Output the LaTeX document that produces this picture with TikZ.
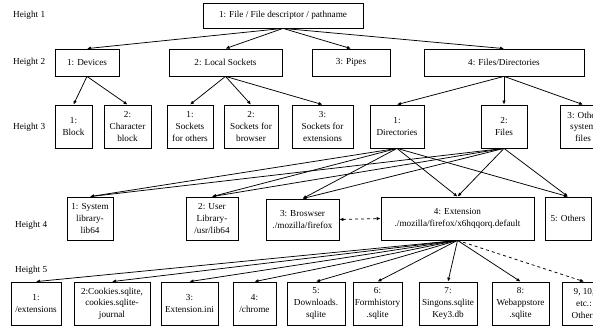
\documentclass[tikz,border=0pt]{standalone}
\usepackage{fontspec}
\setmainfont{Liberation Serif}
\usetikzlibrary{arrows.meta}
\begin{document}
\begin{tikzpicture}[x=1pt,y=-1pt,>={Latex[length=4pt,width=3.5pt]},
  every node/.style={font=\fontsize{9.2}{11.6}\selectfont},
  box/.style={draw,line width=0.8pt,align=center,inner sep=1pt},
  lvl/.style={anchor=west,inner sep=0pt},
  arr/.style={->,line width=0.75pt}]
\clip (0,0) rectangle (593,329);
\node[lvl] (h1) at (13,15.5) {Height 1};
\node[lvl] (h2) at (13,62.5) {Height 2};
\node[lvl] (h3) at (13,127) {Height 3};
\node[lvl] (h4) at (15,225) {Height 4};
\node[lvl] (h5) at (15,270) {Height 5};
\node[box,minimum width=160,minimum height=25] (root) at (283,15.5) {1: File / File descriptor / pathname};
\node[box,minimum width=64,minimum height=27] (dev) at (87,62.5) {1: Devices};
\node[box,minimum width=113,minimum height=27] (lsock) at (225.5,62.5) {2: Local Sockets};
\node[box,minimum width=78,minimum height=27] (pipes) at (351,62.5) {3: Pipes};
\node[box,minimum width=160,minimum height=27] (fdir) at (504,62.5) {4: Files/Directories};
\node[box,minimum width=37,minimum height=43] (block) at (73.5,126.5) {1:\\Block};
\node[box,minimum width=47,minimum height=43] (chr) at (127.5,126.5) {2:\\Character\\block};
\node[box,minimum width=46,minimum height=43] (sko) at (190,126.5) {1:\\Sockets\\for others};
\node[box,minimum width=54,minimum height=43] (skb) at (251,126.5) {2:\\Sockets for\\browser};
\node[box,minimum width=61,minimum height=43] (ske) at (322.5,126.5) {3:\\Sockets for\\extensions};
\node[box,minimum width=54,minimum height=43] (dirs) at (397,126.5) {1:\\Directories};
\node[box,minimum width=46,minimum height=43] (files) at (504,126.5) {2:\\Files};
\node[box,minimum width=46,minimum height=43] (osys) at (583,126.5) {3: Other\\system\\files};
\node[box,minimum width=46,minimum height=43] (syslib) at (90,218.5) {1: System\\library-\\lib64};
\node[box,minimum width=52,minimum height=43] (usrlib) at (212,218.5) {2: User\\Library-\\/usr/lib64};
\node[box,minimum width=73,minimum height=41] (brow) at (302.5,219.5) {3: Broswser\\./mozilla/firefox};
\node[box,minimum width=153,minimum height=43] (ext) at (457.5,218.5) {4: Extension\\./mozilla/firefox/x6hqqorq.default};
\node[box,minimum width=46,minimum height=43] (oth) at (568,218.5) {5: Others};
\node[box,minimum width=50,minimum height=43] (l1) at (36,303.5) {1:\\/extensions};
\node[box,minimum width=76,minimum height=43] (l2) at (112,303.5) {2:Cookies.sqlite,\\cookies.sqlite-\\journal};
\node[box,minimum width=57,minimum height=43] (l3) at (189.5,303.5) {3:\\Extension.ini};
\node[box,minimum width=43,minimum height=43] (l4) at (254.5,303.5) {4:\\/chrome};
\node[box,minimum width=58,minimum height=43] (l5) at (316,303.5) {5:\\Downloads.\\sqlite};
\node[box,minimum width=49,minimum height=43] (l6) at (377.5,303.5) {6:\\Formhistory\\.sqlite};
\node[box,minimum width=58,minimum height=43] (l7) at (448,303.5) {7:\\Singons.sqlite\\Key3.db};
\node[box,minimum width=57,minimum height=43] (l8) at (520.5,303.5) {8:\\Webappstore\\.sqlite};
\node[box,minimum width=44,minimum height=43] (l9) at (584,303.5) {9, 10,\\etc.:\\Others};
\draw[arr] (root.south) -- (dev.north);
\draw[arr] (root.south) -- (lsock.north);
\draw[arr] (root.south) -- (pipes.north);
\draw[arr] (root.south) -- (fdir.north);
\draw[arr] (dev.south) -- (block.north);
\draw[arr] (dev.south) -- (chr.north);
\draw[arr] (lsock.south) -- (sko.north);
\draw[arr] (lsock.south) -- (skb.north);
\draw[arr] (lsock.south) -- (ske.north);
\draw[arr] (fdir.south) -- (dirs.north);
\draw[arr] (fdir.south) -- (files.north);
\draw[arr] (fdir.south) -- (osys.north);
\draw[arr] (dirs.south) -- (syslib.north);
\draw[arr] (dirs.south) -- (usrlib.north);
\draw[arr] (dirs.south) -- (brow.north);
\draw[arr] (dirs.south) -- (ext.north);
\draw[arr] (dirs.south) -- (oth.north);
\draw[arr] (files.south) -- (syslib.north);
\draw[arr] (files.south) -- (usrlib.north);
\draw[arr] (files.south) -- (brow.north);
\draw[arr] (files.south) -- (ext.north);
\draw[arr] (files.south) -- (oth.north);
\draw[arr,<->,dashed] (brow.east) -- (ext.west);
\draw[arr] (ext.south) -- (l1.north);
\draw[arr] (ext.south) -- (l2.north);
\draw[arr] (ext.south) -- (l3.north);
\draw[arr] (ext.south) -- (l4.north);
\draw[arr] (ext.south) -- (l5.north);
\draw[arr] (ext.south) -- (l6.north);
\draw[arr] (ext.south) -- (l7.north);
\draw[arr] (ext.south) -- (l8.north);
\draw[arr,dashed] (ext.south) -- (l9.north);
\end{tikzpicture}
\end{document}
